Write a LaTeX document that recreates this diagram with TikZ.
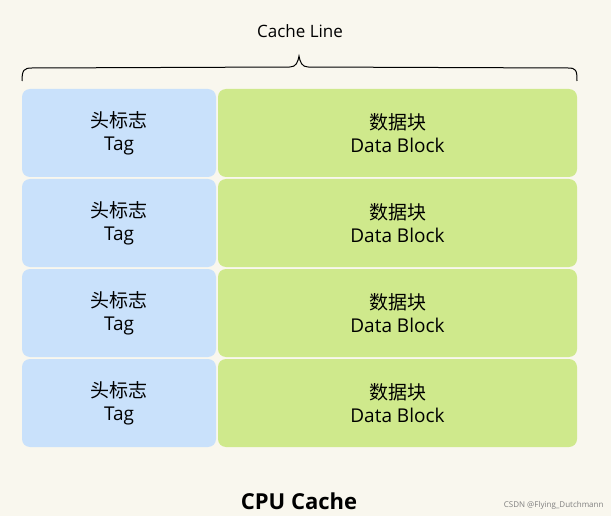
\documentclass[tikz,border=0pt]{standalone}
\usepackage{fontspec}
\setmainfont{Open Sans}
\newfontfamily\cjk{Noto Sans CJK SC}
\definecolor{bg}{HTML}{F9F7EE}
\definecolor{tagc}{HTML}{C9E1FB}
\definecolor{datac}{HTML}{CFE98C}
\begin{document}
\begin{tikzpicture}[x=1pt,y=-1pt,
  cell/.style={rounded corners=8pt,draw=none,minimum height=88pt,inner sep=0pt,align=center,font=\fontsize{19}{23}\selectfont},
  tagbox/.style={cell,fill=tagc,minimum width=194pt},
  databox/.style={cell,fill=datac,minimum width=359pt}]
\fill[bg] (0,0) rectangle (611,516);
\useasboundingbox (0,0) rectangle (611,516);
\foreach \i in {0,1,2,3}{
  \node[tagbox] (t\i) at (119,{133+90*\i}) {{\cjk 头标志}\\Tag};
  \node[databox] (d\i) at (397.5,{133+90*\i}) {{\cjk 数据块}\\Data Block};
}
\draw[line width=1pt] (22,81) .. controls (22,70) and (24,68) .. (32,68) -- (290,67) .. controls (296,67) and (298,62) .. (299,56)
  .. controls (300,62) and (302,67) .. (308,67) -- (568,68) .. controls (576,68) and (577,70) .. (577,81);
\node[font=\fontsize{17}{20}\selectfont] (cl) at (300,31) {Cache Line};
\node[font=\bfseries\fontsize{22}{26}\selectfont] (cpu) at (299,501) {CPU Cache};
\node[font=\fontsize{8}{10}\selectfont,text=gray,anchor=east] (wm) at (607,505) {CSDN @Flying\_Dutchmann};
\end{tikzpicture}
\end{document}
